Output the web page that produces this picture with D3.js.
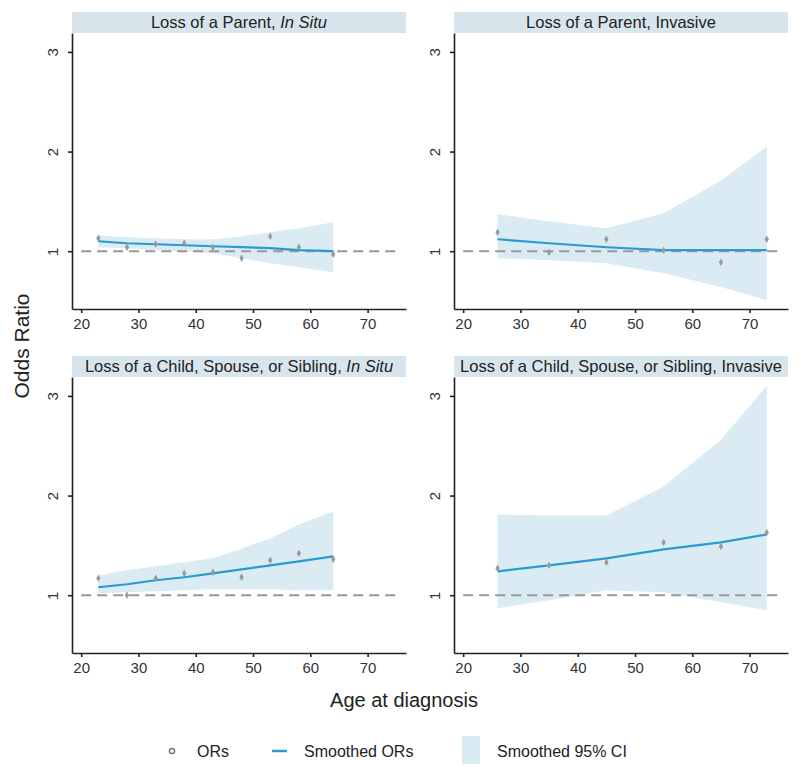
<!DOCTYPE html>
<html><head><meta charset="utf-8">
<script src="https://cdn.jsdelivr.net/npm/d3@7"></script>
<style>body{margin:0;background:#fff;} svg{display:block;font-family:"Liberation Sans",Arial,sans-serif;}</style>
</head><body>
<svg id="chart" width="800" height="776"></svg>
<script>
// ---- data ----
const titleMain = ["Loss of a Parent, ", "Loss of a Parent, Invasive", "Loss of a Child, Spouse, or Sibling, ", "Loss of a Child, Spouse, or Sibling, Invasive"];
const titleItalic = ["In Situ", "", "In Situ", ""];
const xTicks = [20, 30, 40, 50, 60, 70];
const yTicks = [1, 2, 3];

const agesInSitu = [23, 28, 33, 38, 43, 48, 53, 58, 64];
const agesInvasive = [26, 35, 45, 55, 65, 73];

const orParentInSitu     = [1.13, 1.04, 1.07, 1.08, 1.04, 0.93, 1.15, 1.04, 0.97];
const smoothParentInSitu = [1.10, 1.08, 1.07, 1.06, 1.05, 1.04, 1.03, 1.01, 1.00];
const loParentInSitu     = [1.04, 1.03, 1.01, 1.00, 0.98, 0.93, 0.88, 0.84, 0.79];
const hiParentInSitu     = [1.16, 1.14, 1.13, 1.12, 1.12, 1.15, 1.19, 1.23, 1.29];

const orParentInv     = [1.19, 0.99, 1.12, 1.01, 0.89, 1.12];
const smoothParentInv = [1.12, 1.08, 1.04, 1.01, 1.01, 1.01];
const loParentInv     = [0.93, 0.91, 0.88, 0.78, 0.64, 0.51];
const hiParentInv     = [1.37, 1.30, 1.23, 1.38, 1.71, 2.05];

const orChildInSitu     = [1.17, 1.00, 1.17, 1.22, 1.23, 1.18, 1.35, 1.42, 1.36];
const smoothChildInSitu = [1.08, 1.11, 1.15, 1.18, 1.22, 1.26, 1.30, 1.34, 1.39];
const loChildInSitu     = [1.02, 1.03, 1.04, 1.05, 1.06, 1.06, 1.06, 1.05, 1.05];
const hiChildInSitu     = [1.20, 1.25, 1.29, 1.33, 1.37, 1.47, 1.57, 1.71, 1.84];

const orChildInv     = [1.27, 1.30, 1.33, 1.53, 1.49, 1.63];
const smoothChildInv = [1.24, 1.30, 1.37, 1.46, 1.53, 1.61];
const loChildInv     = [0.87, 0.95, 1.05, 1.03, 0.93, 0.85];
const hiChildInv     = [1.81, 1.80, 1.80, 2.09, 2.56, 3.10];

const panels = [
  {ages: agesInSitu, or: orParentInSitu, sm: smoothParentInSitu, lo: loParentInSitu, hi: hiParentInSitu},
  {ages: agesInvasive, or: orParentInv, sm: smoothParentInv, lo: loParentInv, hi: hiParentInv},
  {ages: agesInSitu, or: orChildInSitu, sm: smoothChildInSitu, lo: loChildInSitu, hi: hiChildInSitu},
  {ages: agesInvasive, or: orChildInv, sm: smoothChildInv, lo: loChildInv, hi: hiChildInv}
];

// ---- style ----
const lineColor = "#2a9bd1", ciColor = "#dbebf3", stripColor = "#d9e5ec", ptColor = "#9a9a9a", axisColor = "#222", textColor = "#333";

const svg = d3.select("#chart");
const cols = [72, 454], rows = [33, 377];
const pw = 334, ph = 276;

panels.forEach((p, i) => {
  const x0 = cols[i % 2], y0 = rows[Math.floor(i / 2)];
  const g = svg.append("g").attr("transform", `translate(${x0},${y0})`);
  const x = d3.scaleLinear().domain([18.4, 76.7]).range([0, pw]);
  const y = d3.scaleLinear().domain([0.42, 3.19]).range([ph, 0]);

  // strip
  g.append("rect").attr("x", 0).attr("y", -21).attr("width", pw).attr("height", 21).attr("fill", stripColor);
  const t = g.append("text").attr("x", pw / 2).attr("y", -5).attr("text-anchor", "middle")
    .attr("font-size", 16.5).attr("fill", "#222").text(titleMain[i]);
  if (titleItalic[i]) t.append("tspan").attr("font-style", "italic").text(titleItalic[i]);

  // CI band
  const idx = d3.range(p.ages.length);
  g.append("path").datum(idx).attr("fill", ciColor)
    .attr("d", d3.area().x(k => x(p.ages[k])).y0(k => y(p.lo[k])).y1(k => y(p.hi[k])));

  // reference line
  g.append("line").attr("x1", x(20)).attr("x2", x(75.5)).attr("y1", y(1)).attr("y2", y(1))
    .attr("stroke", "#999").attr("stroke-width", 2).attr("stroke-dasharray", "10,6");

  // smoothed line
  g.append("path").datum(idx).attr("fill", "none").attr("stroke", lineColor).attr("stroke-width", 2.2)
    .attr("d", d3.line().x(k => x(p.ages[k])).y(k => y(p.sm[k])));

  // points
  g.selectAll("path.pt").data(idx).enter().append("path").attr("class", "pt")
    .attr("transform", k => `translate(${x(p.ages[k])},${y(p.or[k])})`)
    .attr("d", d3.symbol().type(d3.symbolDiamond).size(16))
    .attr("fill", ptColor);

  // axes
  const ax = g.append("g").attr("transform", `translate(0,${ph})`)
    .call(d3.axisBottom(x).tickValues(xTicks).tickFormat(d3.format("d")).tickSize(4).tickPadding(5).tickSizeOuter(0));
  const ay = g.append("g").call(d3.axisLeft(y).tickValues(yTicks).tickFormat(d3.format("d")).tickSize(4).tickSizeOuter(0));
  [ax, ay].forEach(a => {
    a.select(".domain").attr("stroke", axisColor).attr("stroke-width", 1.6);
    a.selectAll(".tick line").attr("stroke", axisColor).attr("stroke-width", 1.6);
    a.selectAll("text").attr("font-size", 15).attr("fill", textColor).attr("font-family", "Liberation Sans, Arial, sans-serif");
  });
  ay.selectAll(".tick text").attr("transform", "rotate(-90)").attr("x", 0).attr("y", -19)
    .attr("dy", "0.35em").attr("text-anchor", "middle");
});

// axis titles
svg.append("text").attr("transform", "translate(22,346) rotate(-90)").attr("text-anchor", "middle")
  .attr("dy", "0.35em").attr("font-size", 21).attr("fill", "#222").text("Odds Ratio");
svg.append("text").attr("x", 404).attr("y", 707).attr("text-anchor", "middle")
  .attr("font-size", 20).attr("fill", "#222").text("Age at diagnosis");

// legend
const lg = svg.append("g");
lg.append("circle").attr("cx", 172).attr("cy", 751).attr("r", 2.6).attr("fill", "none").attr("stroke", "#777").attr("stroke-width", 1.5);
lg.append("text").attr("x", 197).attr("y", 757).attr("font-size", 16).attr("fill", "#222").text("ORs");
lg.append("line").attr("x1", 272).attr("x2", 287).attr("y1", 751).attr("y2", 751).attr("stroke", lineColor).attr("stroke-width", 2.5);
lg.append("text").attr("x", 304).attr("y", 757).attr("font-size", 16).attr("fill", "#222").text("Smoothed ORs");
lg.append("rect").attr("x", 462).attr("y", 736).attr("width", 18).attr("height", 28).attr("fill", ciColor);
lg.append("text").attr("x", 497).attr("y", 757).attr("font-size", 16).attr("fill", "#222").text("Smoothed 95% CI");
</script>
</body></html>
